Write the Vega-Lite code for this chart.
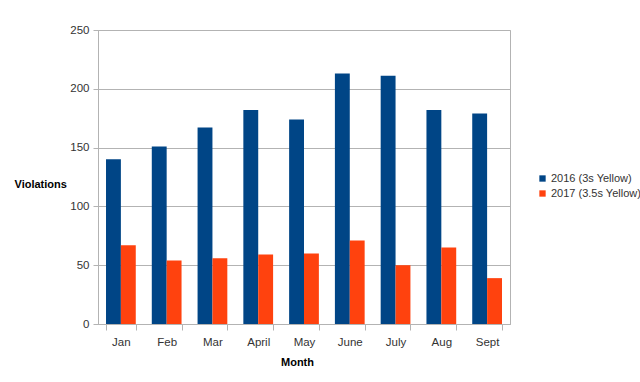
{
  "$schema": "https://vega.github.io/schema/vega-lite/v6.json",
  "width": 412,
  "height": 294,
  "autosize": {"type": "none"},
  "padding": {"left": 98, "top": 30, "right": 130, "bottom": 58},
  "background": "white",
  "config": {
    "font": "Liberation Sans",
    "view": {"stroke": "#b3b3b3", "strokeWidth": 1}
  },
  "data": {
    "values": [
      {"Month": "Jan", "Series": "2016 (3s Yellow)", "Violations": 140},
      {"Month": "Jan", "Series": "2017 (3.5s Yellow)", "Violations": 67},
      {"Month": "Feb", "Series": "2016 (3s Yellow)", "Violations": 151},
      {"Month": "Feb", "Series": "2017 (3.5s Yellow)", "Violations": 54},
      {"Month": "Mar", "Series": "2016 (3s Yellow)", "Violations": 167},
      {"Month": "Mar", "Series": "2017 (3.5s Yellow)", "Violations": 56},
      {"Month": "April", "Series": "2016 (3s Yellow)", "Violations": 182},
      {"Month": "April", "Series": "2017 (3.5s Yellow)", "Violations": 59},
      {"Month": "May", "Series": "2016 (3s Yellow)", "Violations": 174},
      {"Month": "May", "Series": "2017 (3.5s Yellow)", "Violations": 60},
      {"Month": "June", "Series": "2016 (3s Yellow)", "Violations": 213},
      {"Month": "June", "Series": "2017 (3.5s Yellow)", "Violations": 71},
      {"Month": "July", "Series": "2016 (3s Yellow)", "Violations": 211},
      {"Month": "July", "Series": "2017 (3.5s Yellow)", "Violations": 50},
      {"Month": "Aug", "Series": "2016 (3s Yellow)", "Violations": 182},
      {"Month": "Aug", "Series": "2017 (3.5s Yellow)", "Violations": 65},
      {"Month": "Sept", "Series": "2016 (3s Yellow)", "Violations": 179},
      {"Month": "Sept", "Series": "2017 (3.5s Yellow)", "Violations": 39}
    ]
  },
  "mark": {"type": "bar"},
  "encoding": {
    "x": {
      "field": "Month",
      "type": "nominal",
      "sort": null,
      "scale": {"paddingInner": 0.35, "paddingOuter": 0.175},
      "axis": {
        "title": "Month",
        "titleFontSize": 11,
        "titleFontWeight": "bold",
        "titleColor": "#000000",
        "titleY": 32,
        "titleX": 199,
        "labelAngle": 0,
        "labelFontSize": 11.5,
        "labelColor": "#333333",
        "labelPadding": 6,
        "tickBand": "extent",
        "tickSize": 6,
        "tickColor": "#b3b3b3",
        "domainColor": "#b3b3b3",
        "grid": false
      }
    },
    "xOffset": {"field": "Series", "type": "nominal"},
    "y": {
      "field": "Violations",
      "type": "quantitative",
      "scale": {"domain": [0, 250], "nice": false},
      "axis": {
        "title": "Violations",
        "titleAngle": 0,
        "titleFontSize": 11,
        "titleFontWeight": "bold",
        "titleColor": "#000000",
        "titleAlign": "left",
        "titleBaseline": "middle",
        "titleX": -84,
        "titleY": 154,
        "values": [0, 50, 100, 150, 200, 250],
        "labelFontSize": 11.5,
        "labelColor": "#333333",
        "labelPadding": 4,
        "tickSize": 5,
        "tickColor": "#b3b3b3",
        "domainColor": "#b3b3b3",
        "gridColor": "#b3b3b3"
      }
    },
    "color": {
      "field": "Series",
      "type": "nominal",
      "scale": {"range": ["#004586", "#ff420e"]},
      "legend": {
        "title": null,
        "orient": "none",
        "legendX": 439,
        "legendY": 143,
        "symbolType": "square",
        "symbolSize": 40,
        "symbolStrokeWidth": 0,
        "labelFontSize": 11,
        "labelColor": "#333333",
        "labelOffset": 3,
        "rowPadding": 3
      }
    }
  }
}
